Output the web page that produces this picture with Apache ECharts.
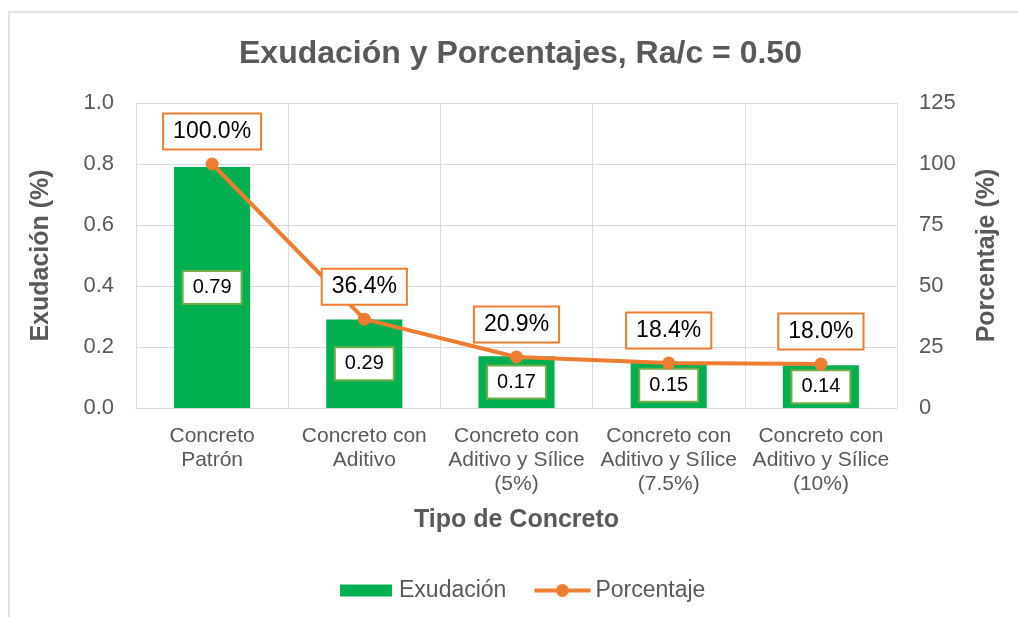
<!DOCTYPE html>
<html>
<head>
<meta charset="utf-8">
<script src="https://cdn.jsdelivr.net/npm/echarts@6/dist/echarts.min.js"></script>
<style>
  html, body { margin: 0; padding: 0; background: #ffffff; }
  #chart { width: 1018px; height: 617px; }
</style>
</head>
<body>
<div id="chart"></div>
<script>
// Concrete types on the category axis
const categories = [
  'Concreto\nPatrón',
  'Concreto con\nAditivo',
  'Concreto con\nAditivo y Sílice\n(5%)',
  'Concreto con\nAditivo y Sílice\n(7.5%)',
  'Concreto con\nAditivo y Sílice\n(10%)'
];
// Bleeding (%) per concrete type
const exudacion = [0.79, 0.29, 0.17, 0.15, 0.14];
// Bleeding relative to the reference concrete (%)
const porcentaje = [100.0, 36.4, 20.9, 18.4, 18.0];
// Tick values for both value axes
const leftTicks = [0, 0.2, 0.4, 0.6, 0.8, 1.0];
const rightTicks = [0, 25, 50, 75, 100, 125];

const GREY_TEXT = '#595959';
const GRID = '#d9d9d9';
const GREEN = '#00B050';
const ORANGE = '#ED7D31';
const FONT = 'Liberation Sans, Arial, sans-serif';

const chart = echarts.init(document.getElementById('chart'), null, { renderer: 'canvas' });

chart.setOption({
  backgroundColor: '#ffffff',
  animation: false,
  textStyle: { fontFamily: FONT },
  graphic: [{
    type: 'rect',
    z: -10,
    silent: true,
    shape: { x: 9, y: 12, width: 1030, height: 630 },
    style: { fill: 'none', stroke: GRID, lineWidth: 1.5 }
  }],
  title: {
    text: 'Exudación y Porcentajes, Ra/c = 0.50',
    left: 234,
    top: 33,
    textStyle: { fontFamily: FONT, fontSize: 32, fontWeight: 'bold', color: GREY_TEXT }
  },
  legend: {
    left: 331,
    top: 574,
    itemWidth: 56,
    itemHeight: 16,
    itemGap: 26,
    textStyle: { fontFamily: FONT, fontSize: 23, color: GREY_TEXT },
    data: [
      {
        name: 'Exudación',
        icon: 'rect',
        itemStyle: { color: GREEN, borderColor: '#ffffff', borderWidth: 4 }
      },
      {
        name: 'Porcentaje',
        itemStyle: { color: ORANGE },
        lineStyle: { color: ORANGE, width: 4 }
      }
    ]
  },
  grid: { left: 136, right: 121, top: 103, bottom: 209, containLabel: false },
  xAxis: {
    type: 'category',
    data: categories,
    boundaryGap: true,
    name: 'Tipo de Concreto',
    nameLocation: 'middle',
    nameGap: 100,
    nameTextStyle: { fontFamily: FONT, fontSize: 25, fontWeight: 'bold', color: GREY_TEXT },
    axisLine: { show: true, lineStyle: { color: GRID, width: 1 } },
    axisTick: { show: false },
    splitLine: { show: true, lineStyle: { color: GRID, width: 1 } },
    axisLabel: {
      interval: 0,
      margin: 16,
      fontFamily: FONT,
      fontSize: 21,
      lineHeight: 24,
      color: GREY_TEXT
    }
  },
  yAxis: [{
    type: 'value',
    min: leftTicks[0],
    max: leftTicks[leftTicks.length - 1],
    interval: leftTicks[1] - leftTicks[0],
    name: 'Exudación (%)',
    nameLocation: 'middle',
    nameGap: 82,
    nameTextStyle: { fontFamily: FONT, fontSize: 25, fontWeight: 'bold', color: GREY_TEXT },
    axisLine: { show: false },
    axisTick: { show: false },
    splitLine: { show: true, lineStyle: { color: GRID, width: 1 } },
    axisLabel: {
      margin: 22,
      fontFamily: FONT,
      fontSize: 22,
      color: GREY_TEXT,
      formatter: v => v.toFixed(1)
    }
  }, {
    type: 'value',
    min: rightTicks[0],
    max: rightTicks[rightTicks.length - 1],
    interval: rightTicks[1] - rightTicks[0],
    name: 'Porcentaje (%)',
    nameLocation: 'middle',
    nameGap: 78,
    nameRotate: 90,
    nameTextStyle: { fontFamily: FONT, fontSize: 25, fontWeight: 'bold', color: GREY_TEXT },
    axisLine: { show: false },
    axisTick: { show: false },
    splitLine: { show: false },
    axisLabel: {
      margin: 22,
      fontFamily: FONT,
      fontSize: 22,
      color: GREY_TEXT
    }
  }],
  series: [{
    name: 'Exudación',
    type: 'bar',
    yAxisIndex: 0,
    data: exudacion,
    barWidth: '50%',
    itemStyle: { color: GREEN },
    label: {
      show: true,
      position: 'inside',
      formatter: p => p.value.toFixed(2),
      fontFamily: FONT,
      fontSize: 20,
      lineHeight: 21,
      color: '#000000',
      backgroundColor: '#ffffff',
      borderColor: '#70AD47',
      borderWidth: 2,
      padding: [5, 9]
    }
  }, {
    name: 'Porcentaje',
    type: 'line',
    yAxisIndex: 1,
    data: porcentaje,
    symbol: 'circle',
    symbolSize: 13,
    itemStyle: { color: ORANGE },
    lineStyle: { color: ORANGE, width: 4 },
    z: 5,
    label: {
      show: true,
      position: 'top',
      distance: 9,
      formatter: p => p.value.toFixed(1) + '%',
      fontFamily: FONT,
      fontSize: 23,
      lineHeight: 24,
      color: '#000000',
      backgroundColor: '#ffffff',
      borderColor: ORANGE,
      borderWidth: 2,
      padding: [5, 9]
    }
  }]
});
</script>
</body>
</html>
